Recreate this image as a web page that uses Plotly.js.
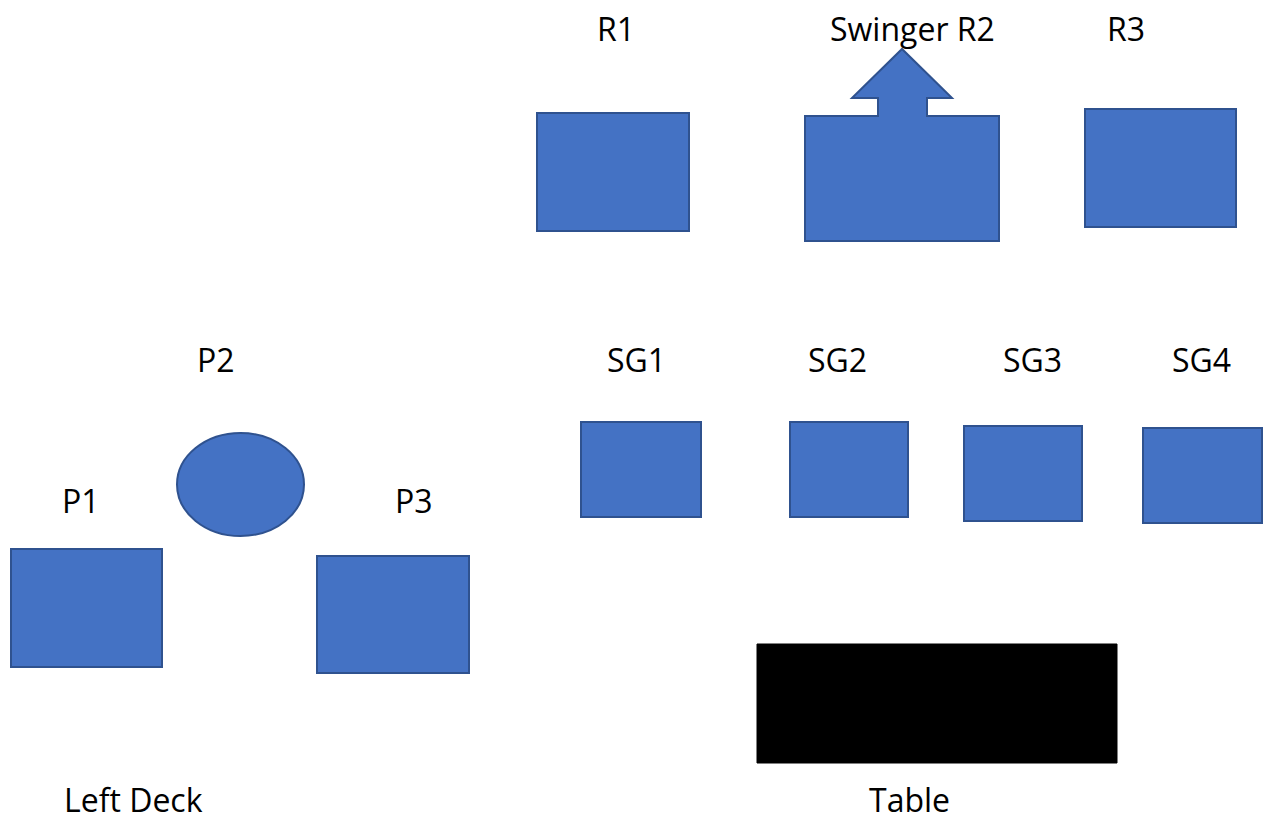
<!DOCTYPE html>
<html>
<head>
<meta charset="utf-8">
<script src="https://cdn.plot.ly/plotly-3.0.1.min.js"></script>
<style>html,body{margin:0;padding:0;background:#fff;}#plot{width:1263px;height:823px;}</style>
</head>
<body>
<div id="plot"></div>
<script>
// Rectangular blocks (diagram coordinates, y grows downward)
const rectNames = ["R1", "R3", "P1", "P3", "SG1", "SG2", "SG3", "SG4", "Table"];
const rectX0 = [537, 1085, 11, 317, 581, 790, 964, 1143, 757];
const rectX1 = [689, 1236, 162, 469, 701, 908, 1082, 1262, 1117];
const rectY0 = [113, 109, 549, 556, 422, 422, 426, 428, 644];
const rectY1 = [231, 227, 667, 673, 517, 517, 521, 523, 763];
const rectFill = ["blue", "blue", "blue", "blue", "blue", "blue", "blue", "blue", "black"];

// Ellipse block
const ellipseNames = ["P2"];
const ellX0 = [177];
const ellX1 = [304];
const ellY0 = [433];
const ellY1 = [536];

// Swinger block outline (rectangle body with upward arrow), vertices in order
const swingerX = [805, 805, 878, 878, 852, 902, 952, 927, 927, 999, 999];
const swingerY = [241, 116, 116, 98, 98, 49, 98, 98, 116, 116, 241];

// Text labels
const labelText = ["R1", "Swinger R2", "R3", "P2", "SG1", "SG2", "SG3", "SG4", "P1", "P3", "Left Deck", "Table"];
const labelX = [616, 912, 1126, 216, 636, 837, 1032, 1201, 81, 414, 133, 909];
const labelY = [28, 28, 28, 359, 359, 359, 359, 359, 500, 500, 799, 799];

const BLUE = "#4472C4";
const EDGE = "#2F528F";

const shapes = [];
for (let i = 0; i < rectNames.length; i++) {
  const isBlack = rectFill[i] === "black";
  shapes.push({
    type: "rect", xref: "x", yref: "y",
    x0: rectX0[i], x1: rectX1[i], y0: rectY0[i], y1: rectY1[i],
    fillcolor: isBlack ? "#000000" : BLUE,
    line: {color: isBlack ? "#000000" : EDGE, width: isBlack ? 1 : 2},
    layer: "above"
  });
}
for (let i = 0; i < ellipseNames.length; i++) {
  shapes.push({
    type: "circle", xref: "x", yref: "y",
    x0: ellX0[i], x1: ellX1[i], y0: ellY0[i], y1: ellY1[i],
    fillcolor: BLUE, line: {color: EDGE, width: 2}, layer: "above"
  });
}
let p = "";
for (let i = 0; i < swingerX.length; i++) {
  p += (i === 0 ? "M" : " L") + swingerX[i] + "," + swingerY[i];
}
p += " Z";
shapes.push({type: "path", xref: "x", yref: "y", path: p,
  fillcolor: BLUE, line: {color: EDGE, width: 2}, layer: "above"});

const annotations = labelText.map((t, i) => ({
  text: t, x: labelX[i], y: labelY[i], xref: "x", yref: "y",
  showarrow: false, xanchor: "center", yanchor: "middle", borderpad: 0,
  font: {family: "Open Sans", size: 32, color: "#000000"}
}));

const layout = {
  width: 1263, height: 823,
  margin: {l: 0, r: 0, t: 0, b: 0, pad: 0},
  paper_bgcolor: "#ffffff", plot_bgcolor: "#ffffff",
  showlegend: false,
  xaxis: {range: [0, 1263], visible: false, fixedrange: true},
  yaxis: {range: [823, 0], visible: false, fixedrange: true},
  shapes: shapes,
  annotations: annotations
};

Plotly.newPlot("plot", [{x: [], y: [], type: "scatter", mode: "markers", hoverinfo: "skip"}], layout, {staticPlot: true, displayModeBar: false});
</script>
</body>
</html>
